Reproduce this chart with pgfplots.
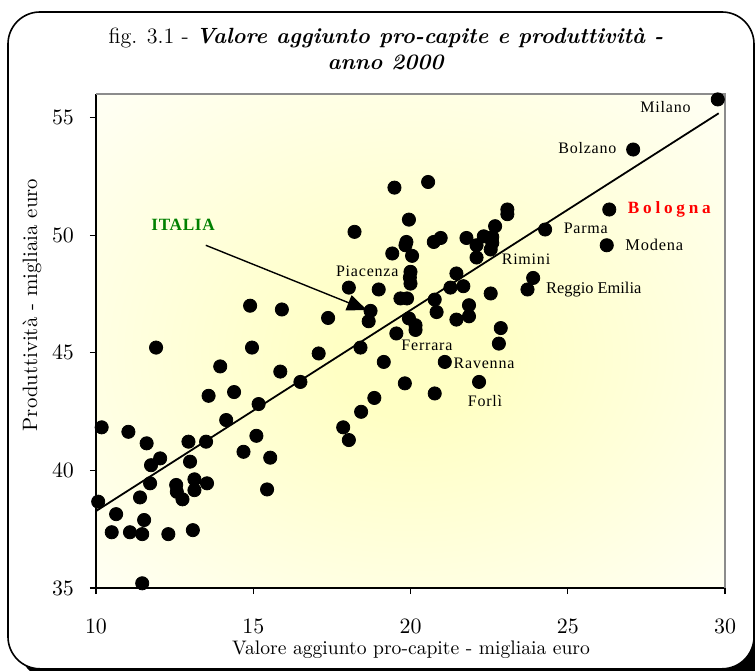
\documentclass[border=0pt]{standalone}
\usepackage{fontspec}
\usepackage{pgfplots}
\pgfplotsset{compat=1.18}
\usetikzlibrary{arrows.meta}
\newfontfamily\timesls[LetterSpace=5]{Liberation Serif}
\newfontfamily\timesbig[LetterSpace=22]{Liberation Serif}
\newfontfamily\timesit[LetterSpace=4]{Liberation Serif}
\newfontfamily\timesplain{Liberation Serif}
\definecolor{bgyellow}{RGB}{255,255,196}
\definecolor{itgreen}{RGB}{0,128,0}
\definecolor{framegray}{RGB}{140,140,140}
\pgfdeclareradialshading{axisbg}{\pgfpoint{0bp}{-2bp}}{color(0bp)=(bgyellow); color(6bp)=(bgyellow); color(42bp)=(white); color(50bp)=(white)}
\newcommand\lab{\timesls\fontsize{8}{10}\selectfont}

\pgfplotstableread{
x y
10.18 41.83
10.07 38.67
11.03 41.64
10.64 38.14
10.50 37.37
11.08 37.37
11.47 37.29
11.47 35.20
11.40 38.85
11.53 37.89
11.61 41.15
11.75 40.22
11.72 39.45
12.04 40.51
12.30 37.29
12.55 39.38
12.57 39.09
12.75 38.77
12.94 41.22
12.99 40.37
13.13 39.62
13.13 39.16
13.08 37.46
13.50 41.22
13.53 39.45
13.58 43.17
14.14 42.14
14.39 43.33
13.95 44.42
14.69 40.79
15.10 41.47
15.17 42.82
15.54 40.54
15.44 39.19
15.86 44.20
16.50 43.76
17.86 41.83
18.04 41.29
18.43 42.49
18.85 43.08
19.82 43.70
11.91 45.22
14.96 45.22
14.90 47.00
15.91 46.84
17.08 44.97
17.38 46.48
18.41 45.22
18.04 47.77
18.99 47.69
18.73 46.78
18.67 46.34
19.15 44.61
18.22 50.14
19.49 52.02
19.95 50.66
19.87 49.71
19.84 49.57
20.05 49.12
19.42 49.22
20.00 48.44
19.98 48.20
20.00 47.94
19.68 47.31
19.89 47.31
19.95 46.46
20.16 46.17
20.16 45.97
19.55 45.82
29.77 55.77
27.08 53.64
26.32 51.09
24.28 50.24
26.24 49.57
23.90 48.18
23.72 47.69
20.56 52.26
20.77 43.27
22.18 43.76
21.09 44.61
22.81 45.39
22.87 46.05
21.46 46.41
21.86 46.55
21.86 47.02
22.55 47.52
21.27 47.77
21.68 47.83
21.46 48.37
20.77 47.26
20.83 46.73
20.74 49.71
20.96 49.88
21.78 49.88
22.10 49.57
22.10 49.05
22.33 49.95
22.60 49.92
22.60 49.67
22.55 49.39
22.69 50.38
23.08 51.09
23.08 50.89
}\provdata

\begin{document}
\begin{tikzpicture}[x=1pt,y=1pt]
\useasboundingbox (0,0) rectangle (377.5,335);
\fill[black, rounded corners=16pt] (10,-5) rectangle (383,60);
\filldraw[fill=white, line width=0.8pt, rounded corners=16pt] (4,0.6) rectangle (377,329);
\begin{axis}[
  at={(48pt,41pt)}, anchor=south west,
  scale only axis, width=314.5pt, height=247pt,
  xmin=10, xmax=30, ymin=35, ymax=56,
  xtick={10,15,20,25,30}, ytick={35,40,45,50,55},
  axis lines*=left,
  axis line style={-, black, line width=0.8pt},
  tick align=outside, major tick length=3pt,
  tick style={black, line width=0.6pt},
  ticklabel style={font=\fontsize{10.5}{12}\selectfont},
  xticklabel shift=9pt,
  yticklabel shift=4.5pt,
  axis background/.style={shade, shading=axisbg},
  clip=false,
]
\draw[framegray, line width=0.7pt] (rel axis cs:0,1) -- (rel axis cs:1,1) -- (rel axis cs:1,0);
\addplot[black, line width=0.9pt] coordinates {(10,38.27) (29.8,55.18)};
\addplot[only marks, mark=*, mark size=3.3pt, black] table[x=x,y=y] {\provdata};
\draw[-{Triangle[length=10pt,width=8pt]}, line width=0.7pt] (axis cs:13.49,49.57) -- (axis cs:18.62,46.81);
\node[text=itgreen, font=\timesit\fontsize{8.6}{10}\selectfont\bfseries] at (axis cs:12.77,50.42) {ITALIA};
\node[anchor=east, inner sep=0pt, font=\lab] at (axis cs:28.92,55.45) {Milano};
\node[anchor=east, inner sep=0pt, font=\lab] at (axis cs:26.56,53.72) {Bolzano};
\node[anchor=west, inner sep=0pt, text=red, font=\timesbig\fontsize{8.6}{10}\selectfont\bfseries] at (axis cs:26.90,51.10) {Bologna};
\node[anchor=west, inner sep=0pt, font=\lab] at (axis cs:24.86,50.28) {Parma};
\node[anchor=west, inner sep=0pt, font=\timesls\fontsize{8.2}{10}\selectfont] at (axis cs:26.82,49.57) {Modena};
\node[anchor=west, inner sep=0pt, font=\lab] at (axis cs:22.89,48.98) {Rimini};
\node[anchor=west, inner sep=0pt, font=\timesplain\fontsize{8.2}{10}\selectfont] at (axis cs:24.30,47.70) {Reggio Emilia};
\node[anchor=east, inner sep=0pt, font=\lab] at (axis cs:19.63,48.46) {Piacenza};
\node[anchor=west, inner sep=0pt, font=\lab] at (axis cs:19.70,45.32) {Ferrara};
\node[anchor=west, inner sep=0pt, font=\lab] at (axis cs:21.36,44.54) {Ravenna};
\node[anchor=west, inner sep=0pt, font=\lab] at (axis cs:21.81,42.95) {Forlì};
\end{axis}
\node[anchor=base, font=\fontsize{11}{13}\selectfont] at (193,313.3) {fig. 3.1 - \textbf{\textit{Valore aggiunto pro-capite e produttività -}}};
\node[anchor=base, font=\fontsize{11}{13}\selectfont] at (193,300) {\textbf{\textit{anno 2000}}};
\node[font=\fontsize{9.8}{12}\selectfont] at (205.5,10) {Valore aggiunto pro-capite - migliaia euro};
\node[font=\fontsize{10.4}{12}\selectfont, rotate=90] at (16,182.5) {Produttività - migliaia euro};
\end{tikzpicture}
\end{document}
